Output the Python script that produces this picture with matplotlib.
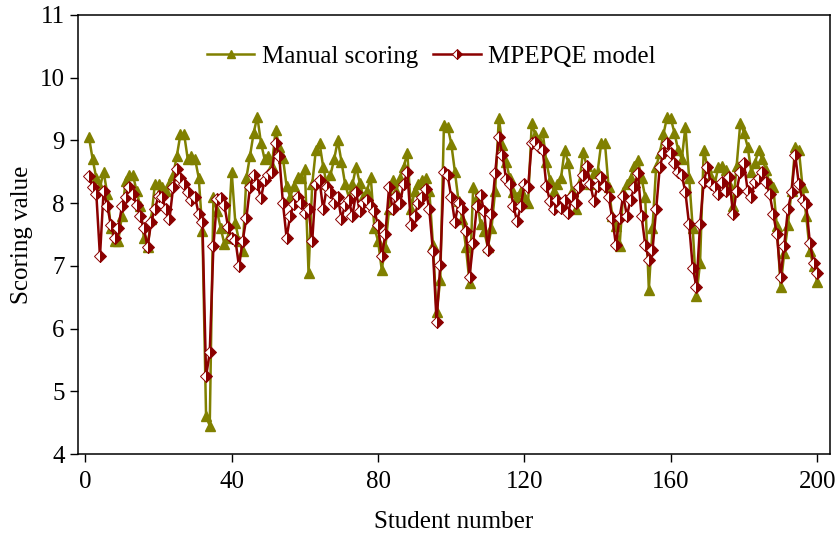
import numpy as np
import matplotlib
matplotlib.use('Agg')
import matplotlib.pyplot as plt

plt.rcParams['font.family'] = ['Liberation Serif', 'DejaVu Serif']

# student index 1..200
student = np.arange(1, 201)

# Manual scoring
manual = [
    9.05, 8.7, 8.4, 8.25, 8.5, 8.15, 7.6, 7.4, 7.4, 7.8,
    8.35, 8.45, 8.45, 8.2, 7.95, 7.45, 7.3, 7.75, 8.3, 8.3,
    8.25, 8.2, 8.3, 8.45, 8.75, 9.1, 9.1, 8.7, 8.75, 8.7,
    8.4, 7.55, 4.6, 4.45, 8.1, 7.87, 7.6, 7.35, 7.45, 8.5,
    7.68, 7.4, 7.23, 8.4, 8.75, 9.12, 9.38, 8.96, 8.7, 8.75,
    8.6, 9.17, 8.9, 8.72, 8.27, 8.1, 8.27, 8.42, 8.4, 8.54,
    6.88, 8.3, 8.85, 8.96, 8.58, 8.3, 8.45, 8.7, 9.0, 8.66,
    8.3, 8.1, 8.3, 8.58, 8.32, 8.1, 8.2, 8.42, 7.6, 7.4,
    6.94, 7.3, 7.9, 8.37, 8.2, 8.4, 8.58, 8.8, 7.9, 8.2,
    8.3, 8.37, 8.4, 8.2, 7.34, 6.26, 6.78, 9.25, 9.22, 8.95,
    8.5, 8.03, 7.75, 7.3, 6.73, 8.26, 8.1, 7.66, 7.55, 7.3,
    7.6, 8.2, 9.36, 8.92, 8.65, 8.4, 8.17, 8.1, 8.2, 8.1,
    8.0, 9.28, 9.08, 9.0, 9.13, 8.65, 8.37, 8.2, 8.3, 8.4,
    8.85, 8.64, 8.2, 7.9, 8.3, 8.82, 8.6, 8.3, 8.48, 8.5,
    8.96, 8.96, 8.26, 7.8, 7.63, 7.31, 8.17, 8.3, 8.4, 8.6,
    8.69, 8.4, 8.1, 6.62, 7.6, 8.58, 8.8, 9.1, 9.38, 9.35,
    9.12, 8.85, 8.7, 9.22, 8.4, 7.6, 6.52, 7.05, 8.85, 8.58,
    8.42, 8.3, 8.58, 8.6, 8.53, 8.3, 7.95, 8.6, 9.28, 9.12,
    8.9, 8.5, 8.64, 8.85, 8.7, 8.53, 8.32, 8.26, 7.63, 6.67,
    7.2, 7.65, 8.2, 8.9, 8.85, 8.26, 7.8, 7.23, 7.0, 6.75,
]

# MPEPQE model output
model = [
    8.43, 8.25, 8.15, 7.15, 8.2, 7.95, 7.65, 7.45, 7.6, 7.95,
    8.1, 8.25, 8.15, 7.97, 7.8, 7.6, 7.3, 7.7, 7.9, 8.12,
    8.1, 7.9, 7.75, 8.25, 8.55, 8.4, 8.3, 8.17, 8.05, 8.1,
    7.82, 7.7, 5.24, 5.62, 7.31, 8.06, 8.08, 7.97, 7.62, 7.45,
    7.42, 6.99, 7.4, 7.76, 8.25, 8.45, 8.3, 8.08, 8.37, 8.45,
    8.5, 8.96, 8.75, 8.0, 7.45, 7.8, 7.98, 8.1, 8.0, 7.85,
    7.9, 7.39, 8.3, 8.37, 7.9, 8.26, 8.17, 8.0, 8.1, 7.75,
    7.97, 8.05, 7.8, 8.17, 7.87, 8.0, 8.05, 7.95, 7.87, 7.65,
    7.15, 7.5, 8.25, 7.9, 8.12, 8.0, 8.3, 8.5, 7.65, 7.8,
    8.0, 8.1, 8.22, 7.9, 7.23, 6.1, 7.02, 8.5, 8.45, 8.1,
    7.7, 8.0, 7.9, 7.55, 6.83, 7.37, 7.95, 8.13, 7.87, 7.26,
    7.82, 8.48, 9.06, 8.77, 8.38, 8.3, 7.95, 7.71, 7.95, 8.3,
    8.25, 8.96, 8.98, 8.9, 8.85, 8.27, 8.03, 7.9, 8.05, 7.92,
    8.05, 7.85, 8.12, 8.0, 8.25, 8.45, 8.6, 8.3, 8.03, 8.27,
    8.42, 8.27, 8.1, 7.76, 7.34, 7.76, 8.12, 7.8, 8.05, 8.25,
    8.48, 7.8, 7.34, 7.1, 7.25, 7.9, 8.58, 8.8, 8.96, 8.8,
    8.64, 8.5, 8.45, 8.17, 7.66, 6.97, 6.67, 7.66, 8.34, 8.58,
    8.3, 8.26, 8.15, 8.34, 8.2, 8.42, 7.82, 8.2, 8.5, 8.64,
    8.2, 8.1, 8.34, 8.4, 8.5, 8.34, 8.15, 7.82, 7.5, 6.83,
    7.32, 7.9, 8.17, 8.77, 8.3, 8.05, 7.98, 7.37, 7.05, 6.89,
]

xticks = [0, 40, 80, 120, 160, 200]
yticks = [4, 5, 6, 7, 8, 9, 10, 11]

fig = plt.figure(figsize=(8.37, 5.35), dpi=100)
ax = fig.add_axes([0.0932, 0.1514, 0.8984, 0.8206])

ax.plot(student, manual, color='#808000', lw=1.8, marker='^', ms=7.5,
        mfc='#808000', mec='#808000', label='Manual scoring')
ax.plot(student, model, color='#8b0000', lw=1.8, marker='D', ms=6.3,
        fillstyle='right', mfc='#8b0000', mfcalt='white', mec='#8b0000',
        mew=0.7, label='MPEPQE model')

ax.set_xlim(-2, 203.5)
ax.set_ylim(4, 11)
ax.set_xticks(xticks)
ax.set_yticks(yticks)
ax.tick_params(direction='out', length=6, width=1, labelsize=18)
ax.tick_params(axis='x', pad=6)
for s in ax.spines.values():
    s.set_linewidth(1.1)

ax.set_xlabel('Student number', fontsize=18, labelpad=13)
ax.set_ylabel('Scoring value', fontsize=18, labelpad=5)

ax.legend(loc='center', bbox_to_anchor=(0.47, 0.905), ncol=2, frameon=False,
          fontsize=18, numpoints=1, handlelength=1.9, handletextpad=0.3,
          columnspacing=0.6, markerscale=0.75)

fig.savefig('out.png', dpi=100)
